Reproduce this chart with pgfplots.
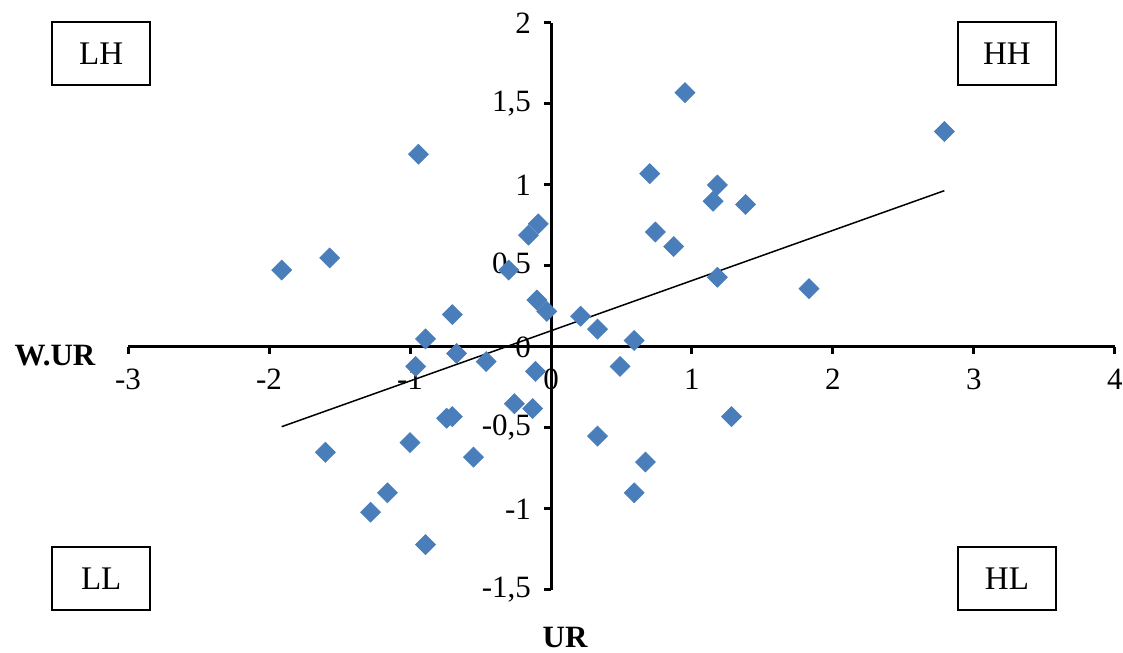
\documentclass[border=0pt]{standalone}
\usepackage{pgfplots}
\pgfplotsset{compat=1.18}
\usepackage{fontspec}
\setmainfont{Liberation Serif}
\definecolor{pt}{HTML}{4A7EBB}
\begin{document}
\begin{tikzpicture}
\begin{axis}[
  scale only axis, width=493.5pt, height=283.5pt,
  xmin=-3, xmax=4, ymin=-1.5, ymax=2,
  axis lines=middle, axis line style={-, line width=1.5pt},
  hide obscured x ticks=false, hide obscured y ticks=false,
  xtick={-3,-2,-1,0,1,2,3,4}, xticklabels={-3,-2,-1,0,1,2,3,4},
  ytick={-1.5,-1,-0.5,0,0.5,1,1.5,2},
  yticklabels={{-1,5},-1,{-0,5},0,{0,5},1,{1,5},2},
  tick align=outside, major tick length=3.5pt,
  tick style={line width=1.5pt, black},
  ticklabel style={font=\fontsize{15.5}{17}\selectfont},
  xticklabel style={anchor=north, yshift=-4pt},
  yticklabel style={anchor=east, xshift=-3pt},
  clip=false,
]
\addplot[only marks, mark=square*, mark size=3.5pt, mark options={rotate=45, fill=pt, draw=pt}] coordinates {
(-1.91,0.475) (-1.57,0.55) (-0.94,1.19) (0.95,1.57) (2.79,1.33)
(0.70,1.07) (1.18,1.00) (1.15,0.90) (1.38,0.88) (0.74,0.71)
(0.87,0.62) (1.18,0.43) (1.83,0.36) (-0.09,0.76) (-0.16,0.69)
(-0.30,0.475) (-0.10,0.29) (-0.03,0.22) (0.21,0.19) (0.33,0.11)
(0.59,0.04) (-0.70,0.20) (-0.89,0.05) (-0.67,-0.04) (-0.46,-0.09)
(-0.96,-0.12) (-0.11,-0.15) (0.49,-0.12) (-0.26,-0.35) (-0.13,-0.38)
(-0.74,-0.44) (-0.70,-0.43) (-1.00,-0.59) (1.28,-0.43) (0.33,-0.55)
(-1.60,-0.65) (-0.55,-0.68) (0.67,-0.71) (-1.16,-0.90) (0.59,-0.90)
(-1.28,-1.02) (-0.89,-1.22)
};
\addplot[black, line width=0.75pt] coordinates {(-1.91,-0.492) (2.79,0.965)};
\tikzset{qbox/.style={draw, line width=1pt, minimum width=49pt, minimum height=31.5pt, inner sep=0pt, font=\fontsize{16.5}{18}\selectfont}}
\node[qbox] at (axis cs:-3.19,1.812) {LH};
\node[qbox] at (axis cs:3.234,1.812) {HH};
\node[qbox] at (axis cs:-3.19,-1.429) {LL};
\node[qbox] at (axis cs:3.234,-1.429) {HL};
\node[font=\fontsize{15.5}{17}\bfseries] at (axis cs:-3.518,-0.05) {W.UR};
\node[font=\fontsize{15.5}{17}\bfseries] at (axis cs:0.10,-1.796) {UR};
\coordinate (bl) at (axis cs:-3.908,-1.889);
\coordinate (tr) at (axis cs:4.057,2.142);
\end{axis}
\pgfresetboundingbox
\path (bl) rectangle (tr);
\end{tikzpicture}
\end{document}
